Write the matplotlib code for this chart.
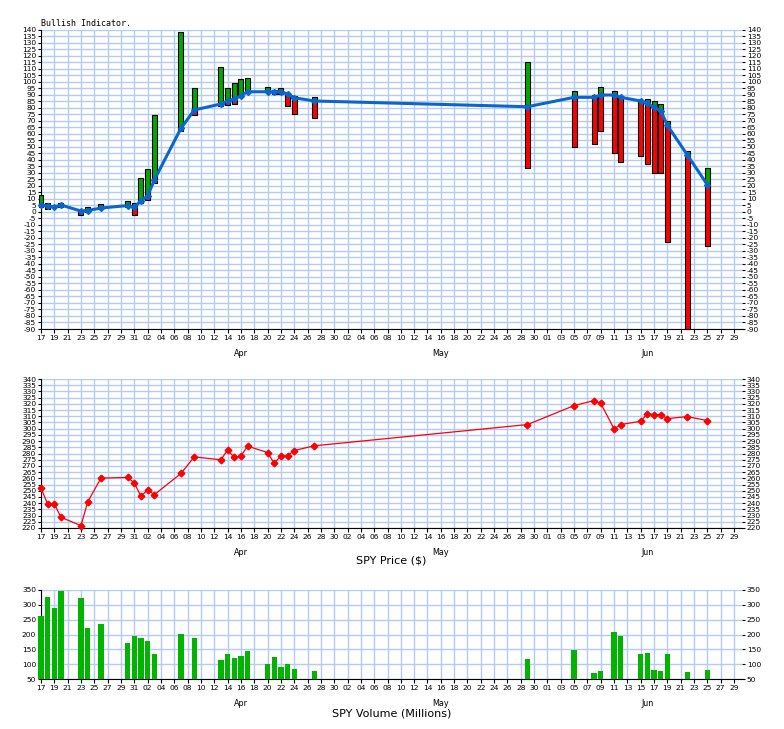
import numpy as np
import pandas as pd
import matplotlib
matplotlib.use("Agg")
import matplotlib.pyplot as plt
import matplotlib.dates as mdates

# ---------------- data ----------------
dates = pd.to_datetime([
    "2020-03-17", "2020-03-18", "2020-03-19", "2020-03-20", "2020-03-23", "2020-03-24",
    "2020-03-26", "2020-03-30", "2020-03-31", "2020-04-01", "2020-04-02", "2020-04-03",
    "2020-04-07", "2020-04-09", "2020-04-13", "2020-04-14", "2020-04-15", "2020-04-16",
    "2020-04-17", "2020-04-20", "2020-04-21", "2020-04-22", "2020-04-23", "2020-04-24",
    "2020-04-27", "2020-05-29", "2020-06-05", "2020-06-08", "2020-06-09", "2020-06-11",
    "2020-06-12", "2020-06-15", "2020-06-16", "2020-06-17", "2020-06-18", "2020-06-19",
    "2020-06-22", "2020-06-25"])

bullish_line = [5.2, 4.4, 3.8, 5.2, 0.6, 1.0, 2.9, 4.8, 3.4, 8.6, 12.1, 24.4,
                64.1, 78.2, 82.8, 85.1, 86.4, 89.2, 92.2, 92.2, 92.2, 92.2, 90.5, 87.6,
                85.1, 80.7, 87.9, 87.9, 89.7, 89.7, 87.9, 85.1, 83.3, 80.2, 77.6, 66.4,
                43.6, 20.8]

bar_high = [13, 7, np.nan, 7, 1.5, 3.5, 6, 8, 7, 26, 33, 74,
            138, 95, 111, 95, 99, 102, 103, 96, 93.5, 95, 91, 89,
            88, 115, 93, 90, 95.5, 92.5, 88.7, 86, 86.5, 85, 82.5, 69.5,
            47, 34]

bar_low = [4, 2.5, np.nan, 3.5, -2.5, -0.5, 2, 4, -2.5, 7, 9, 22,
           62, 74, 81, 82, 83, 88, 92, 92, 90.5, 90.5, 81.5, 75,
           72, 34, 50, 52, 62, 45, 38, 43, 36.5, 30, 30, -23,
           -90, -26]

price = [252.1, 239.3, 239.3, 228.6, 221.9, 240.9, 260.2, 260.7, 256.4, 245.4, 250.8, 246.8,
         263.9, 277.3, 274.9, 282.9, 276.8, 277.9, 285.9, 280.8, 272.0, 278.1, 278.1, 282.4,
         286.2, 303.3, 318.6, 322.6, 320.4, 299.8, 303.3, 306.0, 312.1, 311.3, 311.3, 308.1,
         309.7, 306.5]

volume = [263, 326, 290, 348, 323, 222, 236, 172, 196, 189, 179, 135,
          202, 189, 115, 135, 122, 128, 145, 101, 125, 91, 101, 85,
          78, 118, 148, 71, 78, 209, 196, 135, 138, 81, 78, 135,
          75, 81]

month_labels = ["Apr", "May", "Jun"]
month_pos = pd.to_datetime(["2020-04-16", "2020-05-16", "2020-06-16"])

# ---------------- styling ----------------
GRID = "#b4cbf5"
BLUE = "#0a66cc"
GREEN = "#00a800"
RED = "#ff0000"
VGREEN = "#00b400"
TICKFONT = dict(family="DejaVu Sans", size=5.4)

W, H = 784, 729
fig = plt.figure(figsize=(W / 100, H / 100), dpi=100)

def px_axes(left, top, right, bottom):
    return fig.add_axes([left / W, 1 - bottom / H, (right - left) / W, (bottom - top) / H])

ax1 = px_axes(41, 29.5, 742, 329)
ax2 = px_axes(41, 379, 742, 528)
ax3 = px_axes(41, 590, 742, 679)

xticks = pd.date_range("2020-03-17", "2020-06-29", freq="2D")
x0 = mdates.date2num(pd.Timestamp("2020-03-17"))
x1 = x0 + 105.2
xd = mdates.date2num(dates)

def style_axis(ax, yticks, ylims, gridy):
    ax.set_xlim(x0, x1)
    ax.set_ylim(*ylims)
    ax.set_xticks(mdates.date2num(xticks))
    ax.set_xticklabels([d.strftime("%d") for d in xticks], **TICKFONT)
    ax.set_yticks(yticks)
    ax.set_yticklabels([str(v) for v in yticks], **TICKFONT)
    ax.grid(True, which="major", axis="x", color=GRID, lw=1.0)
    ax.grid(False, which="major", axis="y")
    for g in gridy:
        ax.axhline(g, color=GRID, lw=1.0, zorder=0)
    ax.set_axisbelow(True)
    for s in ["top", "right"]:
        ax.spines[s].set_visible(False)
    for s in ["left", "bottom"]:
        ax.spines[s].set_color("black")
        ax.spines[s].set_linewidth(0.8)
    ax.tick_params(axis="x", length=3, width=0.8, pad=1.5, colors="black")
    ax.tick_params(axis="y", which="major", length=2.5, width=0.8, pad=1,
                   left=True, right=True, labelleft=True, labelright=True)
    for m, d in zip(month_labels, month_pos):
        ax.annotate(m, xy=(mdates.date2num(d), 0), xycoords=("data", "axes fraction"),
                    xytext=(0, -17.5), textcoords="offset points",
                    ha="center", va="center", family="DejaVu Sans", size=5.8)

# ---------------- panel 1: bullish indicator ----------------
yt1 = list(range(-90, 141, 5))
style_axis(ax1, yt1, (-90, 140), yt1)
bw = 0.75
line_arr = np.array(bullish_line)
hi = np.array(bar_high)
lo = np.array(bar_low)
mask = ~np.isnan(hi)
g_bottom = np.minimum(line_arr, hi)
ax1.bar(xd[mask], (hi - g_bottom)[mask], bottom=g_bottom[mask], width=bw,
        color=GREEN, edgecolor="black", linewidth=0.8, zorder=3, clip_on=False)
r_top = np.minimum(line_arr, hi)
ax1.bar(xd[mask], (r_top - lo)[mask], bottom=lo[mask], width=bw,
        color=RED, edgecolor="black", linewidth=0.8, zorder=3, clip_on=False)
ax1.plot(xd, bullish_line, color=BLUE, lw=2.2, marker="D", ms=3.0, zorder=4, clip_on=False)
ax1.text(0, 1.004, "Bullish Indicator.", transform=ax1.transAxes, ha="left", va="bottom",
         family="DejaVu Sans Mono", size=6)

# ---------------- panel 2: price ----------------
yt2 = list(range(220, 341, 5))
style_axis(ax2, yt2, (220, 340), yt2)
ax2.plot(xd, price, color=RED, lw=0.9, marker="D", ms=3.4, zorder=4, clip_on=False)
ax2.text(0.5, -0.215, "SPY Price ($)", transform=ax2.transAxes, ha="center", va="center",
         family="DejaVu Sans", size=8)

# ---------------- panel 3: volume ----------------
yt3 = list(range(50, 351, 50))
style_axis(ax3, yt3, (50, 350), yt3)
vbase = yt3[0]
ax3.bar(xd, np.array(volume) - vbase, bottom=vbase, width=0.8, color=VGREEN,
        linewidth=0, zorder=3, clip_on=False)
ax3.set_ylim(50, 350)
ax3.text(0.5, -0.39, "SPY Volume (Millions)", transform=ax3.transAxes, ha="center",
         va="center", family="DejaVu Sans", size=8)

fig.savefig("out.png", dpi=100, facecolor="white")
